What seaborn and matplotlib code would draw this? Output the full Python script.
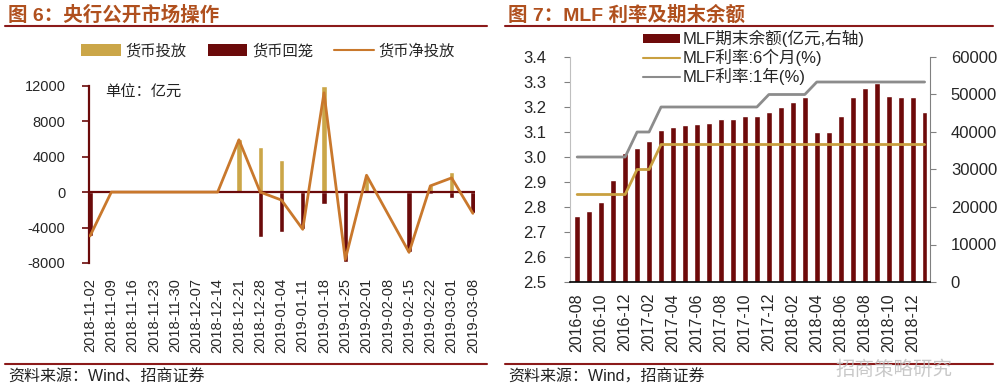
import numpy as np
import pandas as pd
import matplotlib
matplotlib.use("Agg")
import matplotlib.pyplot as plt
import seaborn as sns
from matplotlib.patches import Patch
from matplotlib.lines import Line2D

# ---------------- data ----------------
weeks = ["2018-11-02", "2018-11-09", "2018-11-16", "2018-11-23", "2018-11-30",
         "2018-12-07", "2018-12-14", "2018-12-21", "2018-12-28", "2019-01-04",
         "2019-01-11", "2019-01-18", "2019-01-25", "2019-02-01", "2019-02-08",
         "2019-02-15", "2019-02-22", "2019-03-01", "2019-03-08"]
injection = [0, 0, 0, 0, 0, 0, 0, 6000, 5100, 3600, 0, 12000, 0, 1800, 0, 0, 800, 2300, 0]
withdrawal = [-5000, 0, 0, 0, 0, 0, 0, 0, -5100, -4500, -4200, -1400, -7900, 0, 0, -6800, -200, -700, -2400]
net_injection = [-4950, 0, 0, 0, 0, 0, 0, 5900, 0, -900, -4200, 11200, -7600, 1900, np.nan, -6800, 700, 1600, -2400]
left_yticks = [-8000, -4000, 0, 4000, 8000, 12000]

months = ["2016-08", "2016-09", "2016-10", "2016-11", "2016-12",
          "2017-01", "2017-02", "2017-03", "2017-04", "2017-05", "2017-06",
          "2017-07", "2017-08", "2017-09", "2017-10", "2017-11", "2017-12",
          "2018-01", "2018-02", "2018-03", "2018-04", "2018-05", "2018-06",
          "2018-07", "2018-08", "2018-09", "2018-10", "2018-11", "2018-12",
          "2019-01"]
mlf_balance = [17500, 19000, 21200, 27300, 34500, 35700, 37500, 40600, 41200, 41800,
               42200, 42300, 43500, 43500, 44200, 44200, 45400, 46600, 48000, 49300,
               40100, 40100, 44200, 49400, 51700, 53100, 49500, 49300, 49300, 45400]
rate_6m = [2.85] * 5 + [2.95] * 2 + [3.05] * 23
rate_1y = [3.00] * 5 + [3.10] * 2 + [3.20] * 9 + [3.25] * 4 + [3.30] * 10
rate_ticks = [2.5, 2.6, 2.7, 2.8, 2.9, 3.0, 3.1, 3.2, 3.3, 3.4]
bal_ticks = [0, 10000, 20000, 30000, 40000, 50000, 60000]

# ---------------- style ----------------
sns.set_style("white")
plt.rcParams["font.family"] = ["Liberation Sans", "Noto Sans CJK SC"]
plt.rcParams["axes.unicode_minus"] = False

C_INJ = "#CBA648"
C_WD = "#6B0A0A"
C_NET = "#C9782C"
C_AX = "#6B0A0A"
C_BAL = "#6E0A0A"
C_6M = "#C9A040"
C_1Y = "#8C8C8C"
C_TITLE = "#B0501E"
C_RULE = "#8B1A1A"

fig = plt.figure(figsize=(10, 3.92), dpi=100)

def fx(px):
    return px / 1000

def fy(py):
    return 1 - py / 392

# ---------------- left chart ----------------
axL = fig.add_axes([fx(89), fy(263), fx(386), (263 - 85.7) / 392])
dfL = pd.DataFrame({"week": weeks, "pos": np.arange(len(weeks)),
                    "injection": injection, "withdrawal": withdrawal,
                    "net": net_injection})
sns.barplot(data=dfL, x="week", y="injection", color=C_INJ, width=0.25,
            saturation=1, ax=axL, zorder=2)
sns.barplot(data=dfL, x="week", y="withdrawal", color=C_WD, width=0.25,
            saturation=1, ax=axL, zorder=2)
axL.axhline(0, color=C_AX, lw=1.6, zorder=2.5)
sns.lineplot(data=dfL.dropna(subset=["net"]), x="pos", y="net", color=C_NET,
             lw=2.0, ax=axL, zorder=3)
axL.set_xlim(-0.05, len(weeks) - 1 + 0.1)
axL.set_ylim(-8000, 12000)
axL.set_yticks(left_yticks)
axL.set_xticks(range(len(weeks)))
axL.set_xticklabels(weeks, rotation=90)
axL.set_xlabel("")
axL.set_ylabel("")
for s in ["top", "right", "bottom"]:
    axL.spines[s].set_visible(False)
axL.spines["left"].set_color(C_AX)
axL.spines["left"].set_linewidth(1.6)
axL.tick_params(axis="y", direction="out", length=5, width=1.2, color=C_AX,
                labelsize=10.5, pad=12, left=True)
axL.tick_params(axis="x", length=0, pad=11, labelsize=10.5)

fig.text(fx(105), fy(93), "单位：亿元", fontsize=11, va="center", color="#222222")

handlesL = [Patch(facecolor=C_INJ, edgecolor="none", label="货币投放"),
            Patch(facecolor=C_WD, edgecolor="none", label="货币回笼"),
            Line2D([0], [0], color=C_NET, lw=1.5, label="货币净投放")]
fig.legend(handles=handlesL, loc="center", bbox_to_anchor=(fx(268), fy(51)),
           ncol=3, frameon=False, fontsize=11, handlelength=2.6,
           handleheight=0.8, handletextpad=0.3, columnspacing=1.4)

# ---------------- right chart ----------------
axR = fig.add_axes([fx(570), fy(282), fx(360), 225 / 392])
axB = axR.twinx()
dfR = pd.DataFrame({"month": months, "pos": np.arange(len(months)),
                    "balance": mlf_balance, "r6m": rate_6m, "r1y": rate_1y})
sns.barplot(data=dfR, x="month", y="balance", color=C_BAL, width=0.48,
            saturation=1, ax=axB)
sns.lineplot(data=dfR, x="pos", y="r1y", color=C_1Y, lw=2, ax=axR)
sns.lineplot(data=dfR, x="pos", y="r6m", color=C_6M, lw=2, ax=axR)
axR.set_zorder(axB.get_zorder() + 1)
axR.patch.set_visible(False)

axR.set_xlim(-0.6, len(months) - 1 + 0.45)
axR.set_ylim(2.5, 3.4)
axR.set_yticks(rate_ticks)
axR.set_yticklabels([f"{v:.1f}" for v in rate_ticks])
axB.set_ylim(0, 60000)
axB.set_yticks(bal_ticks)
axR.set_xticks(range(0, len(months), 2))
axR.set_xticklabels(months[::2], rotation=90)
axR.set_xlabel("")
axR.set_ylabel("")
axB.set_xlabel("")
axB.set_ylabel("")
axB.tick_params(axis="x", which="both", bottom=False, top=False,
                labelbottom=False, labeltop=False)

for s in ["top", "right"]:
    axR.spines[s].set_visible(False)
axR.spines["left"].set_color("#BFBFBF")
axR.spines["bottom"].set_color("#000000")
axR.spines["bottom"].set_linewidth(1.2)
for s in ["top", "left", "bottom"]:
    axB.spines[s].set_visible(False)
axB.spines["right"].set_color("#808080")

axR.tick_params(axis="y", direction="out", length=4, color="#808080",
                labelsize=12, pad=13, left=True)
axR.tick_params(axis="x", length=0, pad=8, labelsize=11.5)
axB.tick_params(axis="y", direction="out", length=4, color="#808080",
                labelsize=12, pad=11, right=True)

handlesR = [Patch(facecolor=C_BAL, edgecolor="none", label="MLF期末余额(亿元,右轴)"),
            Line2D([0], [0], color=C_6M, lw=1.5, label="MLF利率:6个月(%)"),
            Line2D([0], [0], color=C_1Y, lw=1.5, label="MLF利率:1年(%)")]
fig.legend(handles=handlesR, loc="upper left", bbox_to_anchor=(fx(643), fy(30)),
           ncol=1, frameon=False, fontsize=12, handlelength=2.2,
           handleheight=0.5, handletextpad=0.15, labelspacing=0.1,
           borderpad=0, borderaxespad=0)

# ---------------- titles, rules, footers ----------------
fig.text(fx(8), fy(15), "图 6：央行公开市场操作", fontsize=14, fontweight="bold",
         color=C_TITLE, va="center", ha="left")
fig.text(fx(508), fy(15), "图 7：MLF 利率及期末余额", fontsize=14, fontweight="bold",
         color=C_TITLE, va="center", ha="left")
for x0, x1 in [(5, 487), (505, 993)]:
    fig.add_artist(Line2D([fx(x0), fx(x1)], [fy(25.5), fy(25.5)], color=C_RULE, lw=1.5))
    fig.add_artist(Line2D([fx(x0), fx(x1)], [fy(363.5), fy(363.5)], color=C_RULE, lw=1.5))

fig.text(fx(8), fy(377), "资料来源：Wind、招商证券", fontsize=11.5, va="center",
         ha="left", color="#222222")
fig.text(fx(508), fy(377), "资料来源：Wind，招商证券", fontsize=11.5, va="center",
         ha="left", color="#222222")
fig.text(fx(835), fy(370), "招商策略研究", fontsize=14, va="center", ha="left",
         color="#BBBBBB", alpha=0.8)

fig.savefig("out.png", dpi=100)
